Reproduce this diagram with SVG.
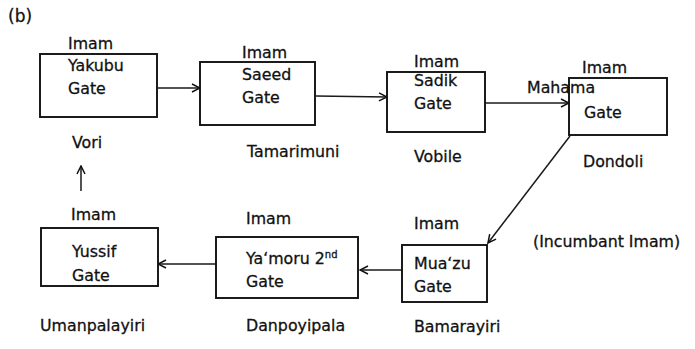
<svg xmlns="http://www.w3.org/2000/svg" width="695" height="349" viewBox="0 0 695 349">
<defs>
<marker id="ah" viewBox="0 0 10 10" refX="9" refY="5" markerWidth="10" markerHeight="10" markerUnits="userSpaceOnUse" orient="auto">
<path d="M1,1 L9,5 L1,9" fill="none" stroke="#111" stroke-width="1.5"/>
</marker>
<style>
text{font-family:"DejaVu Sans","Liberation Sans",sans-serif;font-size:15.8px;fill:#111;stroke:#111;stroke-width:0.3}
.box{fill:#fff;stroke:#111;stroke-width:1.9}
.c{fill:none;stroke:#1a1a1a;stroke-width:1.5;marker-end:url(#ah)}
</style>
</defs>
<rect width="695" height="349" fill="#fff"/>
<text x="8" y="22" style="font-size:17px">(b)</text>
<g id="connectors">
<line class="c" x1="157" y1="88" x2="200" y2="88"/>
<line class="c" x1="316" y1="96" x2="387" y2="97"/>
<line class="c" x1="485" y1="103" x2="569" y2="103"/>
<line class="c" x1="570" y1="136" x2="488" y2="243"/>
<line class="c" x1="402" y1="270" x2="360" y2="270"/>
<line class="c" x1="216" y1="264" x2="158" y2="264"/>
<line class="c" x1="81" y1="191" x2="81" y2="166"/>
</g>
<g id="node-yakubu">
<rect class="box" x="40" y="54" width="117" height="63"/>
<text x="68" y="49">Imam</text>
<text x="68" y="71">Yakubu</text>
<text x="68" y="94">Gate</text>
<text x="72" y="148">Vori</text>
</g>
<g id="node-saeed">
<rect class="box" x="200" y="62" width="115" height="63"/>
<text x="242" y="58">Imam</text>
<text x="242" y="80">Saeed</text>
<text x="242" y="103">Gate</text>
<text x="247" y="157">Tamarimuni</text>
</g>
<g id="node-sadik">
<rect class="box" x="387" y="72" width="98" height="60"/>
<text x="414" y="67">Imam</text>
<text x="414" y="86">Sadik</text>
<text x="414" y="109">Gate</text>
<text x="414" y="162">Vobile</text>
</g>
<g id="node-mahama">
<rect class="box" x="569" y="78" width="98" height="57"/>
<text x="582" y="73">Imam</text>
<text x="527" y="93">Mahama</text>
<text x="584" y="118">Gate</text>
<text x="583" y="167">Dondoli</text>
<text x="533" y="247">(Incumbant Imam)</text>
</g>
<g id="node-muazu">
<rect class="box" x="402" y="245" width="85" height="57"/>
<text x="414" y="229">Imam</text>
<text x="414" y="269">Mua‘zu</text>
<text x="414" y="292">Gate</text>
<text x="414" y="332">Bamarayiri</text>
</g>
<g id="node-yamoru">
<rect class="box" x="216" y="237" width="142" height="61"/>
<text x="246" y="224">Imam</text>
<text x="246" y="264">Ya‘moru 2<tspan style="font-size:10px" dy="-6">nd</tspan></text>
<text x="246" y="287">Gate</text>
<text x="246" y="331">Danpoyipala</text>
</g>
<g id="node-yussif">
<rect class="box" x="41" y="228" width="117" height="58"/>
<text x="71" y="220">Imam</text>
<text x="72" y="257">Yussif</text>
<text x="72" y="281">Gate</text>
<text x="40" y="331">Umanpalayiri</text>
</g>
</svg>
